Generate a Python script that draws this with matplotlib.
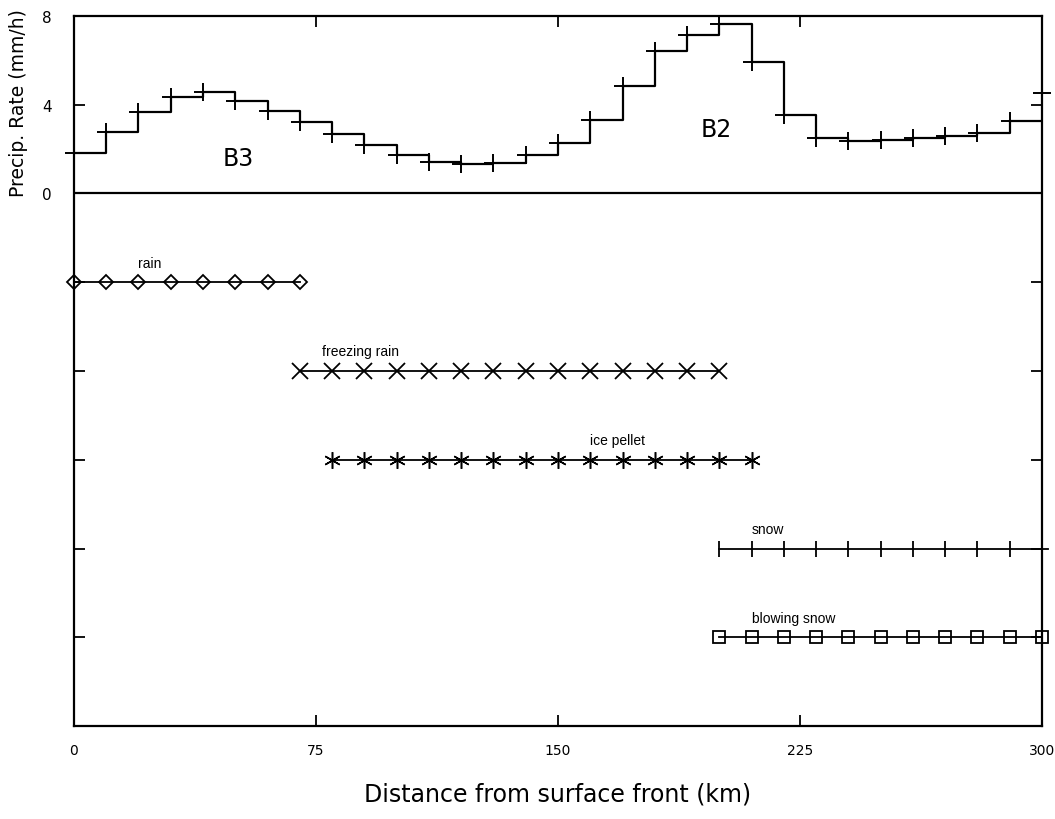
import matplotlib
matplotlib.use("Agg")
import matplotlib.pyplot as plt
import numpy as np

# Precipitation rate along the cross-section (10 km bins, step drawn 'post')
distance_km = list(range(0, 301, 10))
precip_rate = [1.83, 2.75, 3.65, 4.35, 4.57, 4.19, 3.70, 3.24, 2.70, 2.17,
               1.72, 1.42, 1.32, 1.37, 1.72, 2.29, 3.33, 4.84, 6.41, 7.16,
               7.64, 5.92, 3.54, 2.50, 2.35, 2.40, 2.50, 2.60, 2.73, 3.27,
               4.52]

# Observed precipitation types (start/end distance in km, row level)
ptype_names = ["rain", "freezing rain", "ice pellet", "snow", "blowing snow"]
ptype_start = [0, 70, 80, 200, 200]
ptype_end = [70, 200, 210, 300, 300]
ptype_level = [-4, -8, -12, -16, -20]

x_ticks = [0, 75, 150, 225, 300]
y_ticklabels = [0, 4, 8]

fig = plt.figure(figsize=(10.55, 8.2), dpi=100)
ax = fig.add_axes([0.0701, 0.1134, 0.9176, 0.8659])

lw = 1.6
# Step profile: each bin level held until the next bin start
ax.step(distance_km[:-1], precip_rate[:-1], where="post", color="black", lw=lw)
ax.plot(distance_km[-2:], [precip_rate[-2], precip_rate[-2]], color="black", lw=lw)
ax.plot(distance_km, precip_rate, linestyle="none", marker="+", ms=13, mew=1.4,
        color="black", clip_on=False)

ax.axhline(0, color="black", lw=lw)

markers = ["D", "x", (6, 2, 0), "|", "s"]
msizes = [7, 11, 12, 12, 8]
mews = [1.3, 1.3, 1.1, 1.3, 1.3]
for name, s, e, lev, m, msz, mw in zip(ptype_names, ptype_start, ptype_end, ptype_level,
                                       markers, msizes, mews):
    xs = np.arange(s, e + 1, 10)
    ax.plot(xs, np.full(xs.shape, lev), color="black", lw=1.3, marker=m, ms=msz,
            mfc="none" if m in ("D", "s") else "black", mec="black", mew=mw, clip_on=False)
# snow line runs a little past the frame
ax.plot([ptype_end[3], ptype_end[3] + 2], [ptype_level[3]] * 2, color="black", lw=1.3, clip_on=False)

label_pos = {"rain": (20, -3.3), "freezing rain": (77, -7.3), "ice pellet": (160, -11.3),
             "snow": (210, -15.3), "blowing snow": (210, -19.3)}
for name in ptype_names:
    x0, y0 = label_pos[name]
    ax.text(x0, y0, name, fontsize=10, family="Liberation Sans", ha="left", va="baseline")

ax.text(51, 1.6, "B3", fontsize=17, family="DejaVu Sans", ha="center", va="center")
ax.text(199, 2.9, "B2", fontsize=17, family="DejaVu Sans", ha="center", va="center")

ax.set_xlim(0, 300)
ax.set_ylim(-24, 8)
for sp in ax.spines.values():
    sp.set_linewidth(lw)

ax.set_xticks(x_ticks)
ax.set_xticklabels([str(v) for v in x_ticks], fontsize=10, family="Liberation Sans Narrow")
ax.tick_params(axis="x", direction="in", length=8, width=1.3, top=True, pad=12)
ax.set_yticks([-20, -16, -12, -8, -4, 0, 4, 8])
ax.set_yticklabels(["", "", "", "", "", "0", "4", "8"], fontsize=11, family="Liberation Sans Narrow")
ax.tick_params(axis="y", direction="in", length=8, width=1.3, right=True, pad=16)
for t in ax.yaxis.get_major_ticks():
    if t.get_loc() in (0, 8):
        t.tick1line.set_visible(False)
        t.tick2line.set_visible(False)
xt = ax.xaxis.get_major_ticks()
for t in (xt[0], xt[-1]):
    t.tick1line.set_visible(False)
    t.tick2line.set_visible(False)

ax.set_xlabel("Distance from surface front (km)", fontsize=17, family="DejaVu Sans",
              labelpad=18)
ax.set_ylabel("Precip. Rate (mm/h)", fontsize=13.5, family="DejaVu Sans")
ax.yaxis.set_label_coords(-0.047, 0.879)

fig.savefig("out.png", dpi=100)
